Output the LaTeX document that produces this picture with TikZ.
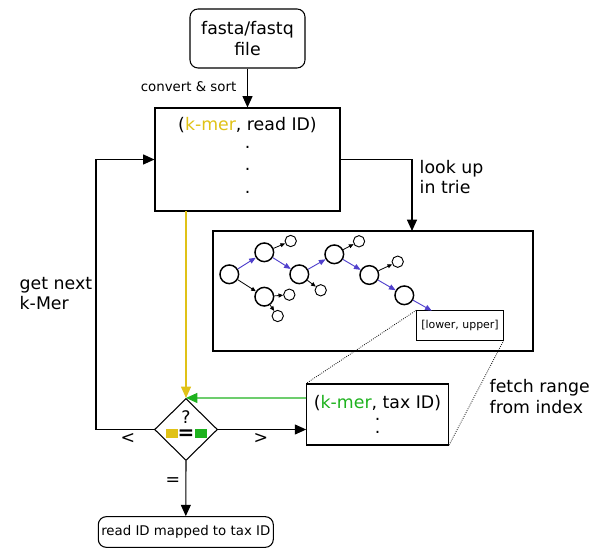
\documentclass[tikz,border=0pt]{standalone}
\usepackage{fontspec}
\setmainfont{DejaVu Sans}
\usetikzlibrary{arrows.meta,shapes.geometric}
\definecolor{kyel}{RGB}{224,194,22}
\definecolor{kgrn}{RGB}{30,178,30}
\definecolor{kblu}{RGB}{80,64,204}
\tikzset{
  main/.style={font=\fontsize{13}{15.5}\selectfont},
  small/.style={font=\fontsize{10}{12}\selectfont},
  tiny/.style={font=\fontsize{8.2}{10}\selectfont},
  dotst/.style={font=\fontsize{13}{15.5}\selectfont, inner sep=0pt},
  boxst/.style={draw, line width=0.8pt, inner sep=0pt},
  arr/.style={line width=0.8pt, -{Triangle[length=8.5pt,width=7.5pt]}},
  big/.style={circle, draw, line width=1.1pt, minimum size=14pt, inner sep=0pt},
  sml/.style={circle, draw, line width=0.7pt, minimum size=8.5pt, inner sep=0pt},
  barr/.style={kblu, line width=0.7pt, -{Triangle[length=5pt,width=4pt]}},
  karr/.style={black, line width=0.6pt, -{Triangle[length=3.5pt,width=3pt]}},
}
\begin{document}
\begin{tikzpicture}[x=0.75pt,y=-0.75pt]
\useasboundingbox (0,0) rectangle (605,548);
% boxes
\node[boxst, rounded corners=6pt, minimum width=86.25pt, minimum height=44.25pt, main, align=center] (fasta) at (247.5,38.5) {fasta/fastq\\file};
\node[boxst, minimum width=138.75pt, minimum height=77.25pt] (kmer) at (247.5,159.5) {};
\node[main, inner sep=1pt] (kmert) at (247.5,125) {(\textcolor{kyel}{k-mer}, read ID)};
\node[dotst] (d1) at (247.5,147) {.};
\node[dotst] (d2) at (247.5,169.5) {.};
\node[dotst] (d3) at (247.5,192) {.};
\node[boxst, minimum width=240pt, minimum height=90pt] (trie) at (373,291) {};
\node[boxst, minimum width=106.2pt, minimum height=45.75pt] (tax) at (377.5,414.5) {};
\node[main, inner sep=1pt] (taxt) at (377.5,403) {(\textcolor{kgrn}{k-mer}, tax ID)};
\node[inner sep=0pt, align=center, font=\fontsize{13}{10.1}\selectfont] (tdots) at (377.5,426) {.\\.};
\node[boxst, rounded corners=6pt, minimum width=131.25pt, minimum height=23pt, small] (out) at (185.8,532) {read ID mapped to tax ID};
\node[draw, diamond, line width=0.8pt, inner sep=0pt, minimum width=47.25pt, minimum height=46.5pt] (dia) at (186,429.5) {};
\node[fill=kyel, minimum width=8.8pt, minimum height=6.7pt, inner sep=0pt] (ys) at (171.8,433.8) {};
\node[fill=kgrn, minimum width=8.8pt, minimum height=6.7pt, inner sep=0pt] (gs) at (200.8,433.8) {};
\node[inner sep=0pt, align=center, font=\fontsize{13}{11.5}\selectfont] (qeq) at (186,425) {?\\{\fontsize{15}{11.5}\selectfont\bfseries =}};
% trie
\node[big] (A) at (229.3,274.3) {};
\node[big] (B) at (264.3,252.3) {};
\node[big] (C) at (264.3,296.7) {};
\node[big] (D) at (299.3,274.3) {};
\node[big] (E) at (334.3,254.3) {};
\node[big] (F) at (369.3,275) {};
\node[big] (G) at (404.3,295.3) {};
\node[sml] (s1) at (290.7,241) {};
\node[sml] (s2) at (289.3,294.7) {};
\node[sml] (s3) at (277.7,316) {};
\node[sml] (s4) at (320.7,290.3) {};
\node[sml] (s5) at (359,241.3) {};
\node[sml] (s6) at (397.7,261.7) {};
\node[boxst, line width=0.6pt, minimum width=65pt, minimum height=22pt, tiny] (leaf) at (460,325.3) {[lower, upper]};
\coordinate (lt) at (431.7,310.7);
\draw[barr] (A) -- (B);
\draw[barr] (B) -- (D);
\draw[barr] (D) -- (E);
\draw[barr] (E) -- (F);
\draw[barr] (F) -- (G);
\draw[barr] (G) -- (lt);
\draw[karr] (A) -- (C);
\draw[karr] (B) -- (s1);
\draw[karr] (C) -- (s2);
\draw[karr] (C) -- (s3);
\draw[karr] (D) -- (s4);
\draw[karr] (E) -- (s5);
\draw[karr] (F) -- (s6);
\draw[densely dotted, line width=0.6pt] (leaf.north west) -- (tax.north west);
\draw[densely dotted, line width=0.6pt] (leaf.south east) -- (tax.south east);
% connectors
\draw[arr] (fasta) -- (kmer);
\coordinate (tr) at (412,159.5);
\coordinate (ttop) at (412,231);
\draw[arr] (kmer.east) -- (tr) -- (ttop);
\coordinate (lc) at (96,429.5);
\coordinate (lu) at (96,159.5);
\draw[arr] (dia.west) -- (lc) -- (lu) -- (kmer.west);
\coordinate (yb) at (186,211);
\draw[arr, kyel] (yb) -- (dia.north);
\coordinate (gy) at (0,398);
\draw[arr, kgrn] (tax.west |- gy) -- (dia.north);
\draw[arr] (dia.east) -- (dia.east -| tax.west);
\draw[arr] (dia.south) -- (out.north);
% labels
\node[small, anchor=east] (cs) at (241,87) {convert \& sort};
\node[main, anchor=west, align=left] (lk) at (415,177) {look up\\in trie};
\node[main, anchor=west, align=left] (gn) at (15,293.5) {get next\\k-Mer};
\node[main, anchor=west, align=left] (fr) at (485,396.5) {fetch range\\from index};
\node[main] (lt1) at (128,438) {<};
\node[main] (gt1) at (261,438) {>};
\node[main] (eq1) at (173,482) {=};
\end{tikzpicture}
\end{document}
